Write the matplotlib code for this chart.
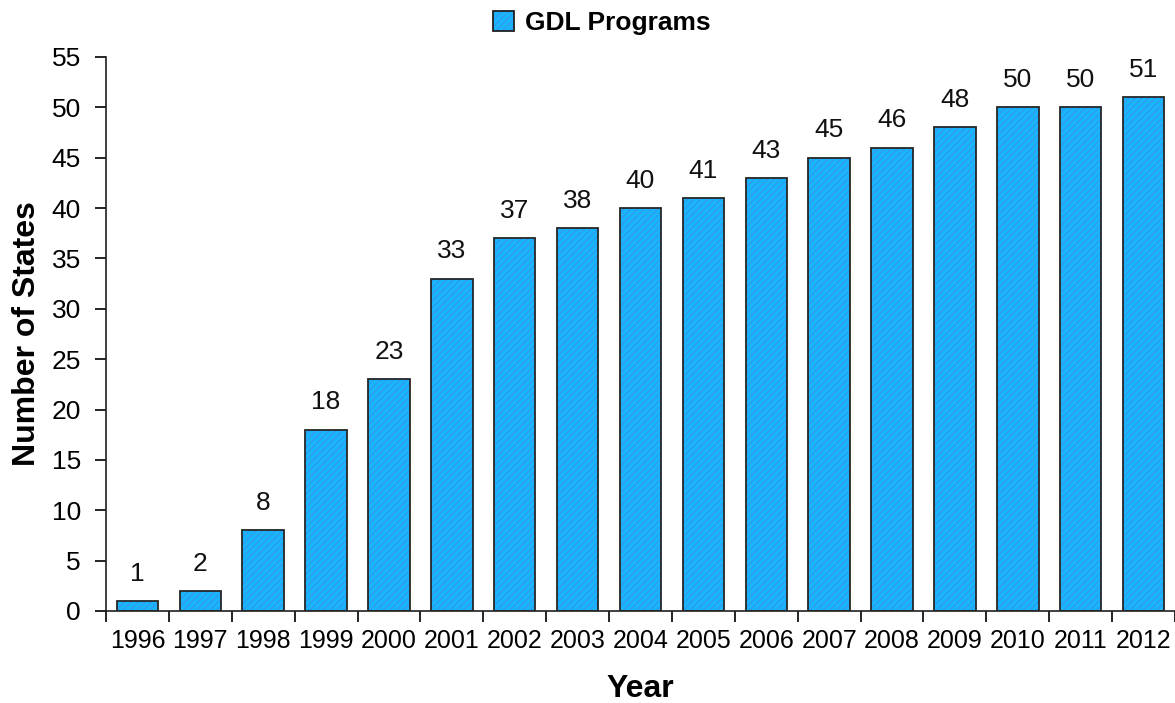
import matplotlib
matplotlib.use("Agg")
import matplotlib.pyplot as plt
from matplotlib.patches import Rectangle
from matplotlib.legend_handler import HandlerTuple
import numpy as np

years = ["1996", "1997", "1998", "1999", "2000", "2001", "2002", "2003", "2004",
         "2005", "2006", "2007", "2008", "2009", "2010", "2011", "2012"]
states = [1, 2, 8, 18, 23, 33, 37, 38, 40, 41, 43, 45, 46, 48, 50, 50, 51]
series_name = "GDL Programs"
y_ticks = [0, 5, 10, 15, 20, 25, 30, 35, 40, 45, 50, 55]

plt.rcParams['font.family'] = ['Liberation Sans', 'DejaVu Sans']
plt.rcParams['hatch.linewidth'] = 0.7

face = "#17b6fb"
hatch_col = "#3f8fec"

fig = plt.figure(figsize=(11.75, 7.03), dpi=100)
ax = fig.add_axes([0.0902, 0.1309, 0.9098, 0.7881])

x = np.arange(len(years))
w = 0.66
ax.bar(x, states, width=w, color=face, edgecolor=hatch_col, linewidth=0,
       hatch="/////", zorder=2)
ax.bar(x, states, width=w, fill=False, edgecolor="#262626", linewidth=1.3, zorder=3)

for xi, v in zip(x, states):
    ax.annotate(str(v), (xi, v), xytext=(0, 11), textcoords="offset points",
                ha="center", va="bottom", fontsize=19, color="#111111")

ax.set_xlim(-0.5, len(years) - 0.5)
ax.set_ylim(0, 55)
ax.set_yticks(y_ticks)
ax.set_xticks(x)
ax.set_xticklabels(years)
ax.set_xticks(np.arange(-0.5, len(years), 1.0), minor=True)
ax.tick_params(axis="x", which="major", length=0, labelsize=18, pad=13)
ax.tick_params(axis="x", which="minor", length=8, width=1.2, direction="out")
ax.tick_params(axis="y", length=8, width=1.2, direction="out", labelsize=19, pad=10)

for s in ["top", "right"]:
    ax.spines[s].set_visible(False)
for s in ["left", "bottom"]:
    ax.spines[s].set_linewidth(1.2)
    ax.spines[s].set_color("#202020")

ax.set_xlabel("Year", fontsize=23, fontweight="bold", labelpad=15)
ax.set_ylabel("Number of States", fontsize=23, fontweight="bold", labelpad=7)

h1 = Rectangle((0, 0), 1, 1, facecolor=face, edgecolor=hatch_col, linewidth=0, hatch="/////")
h2 = Rectangle((0, 0), 1, 1, fill=False, edgecolor="#202020", linewidth=1.3)
fig.legend(handles=[(h1, h2)], labels=[series_name], loc="upper center",
           bbox_to_anchor=(0.512, 1.018), frameon=False,
           handler_map={tuple: HandlerTuple(ndivide=1)},
           prop={"weight": "bold", "size": 19}, handlelength=0.8, handleheight=0.8,
           handletextpad=0.4)

fig.savefig("out.png", dpi=100)
